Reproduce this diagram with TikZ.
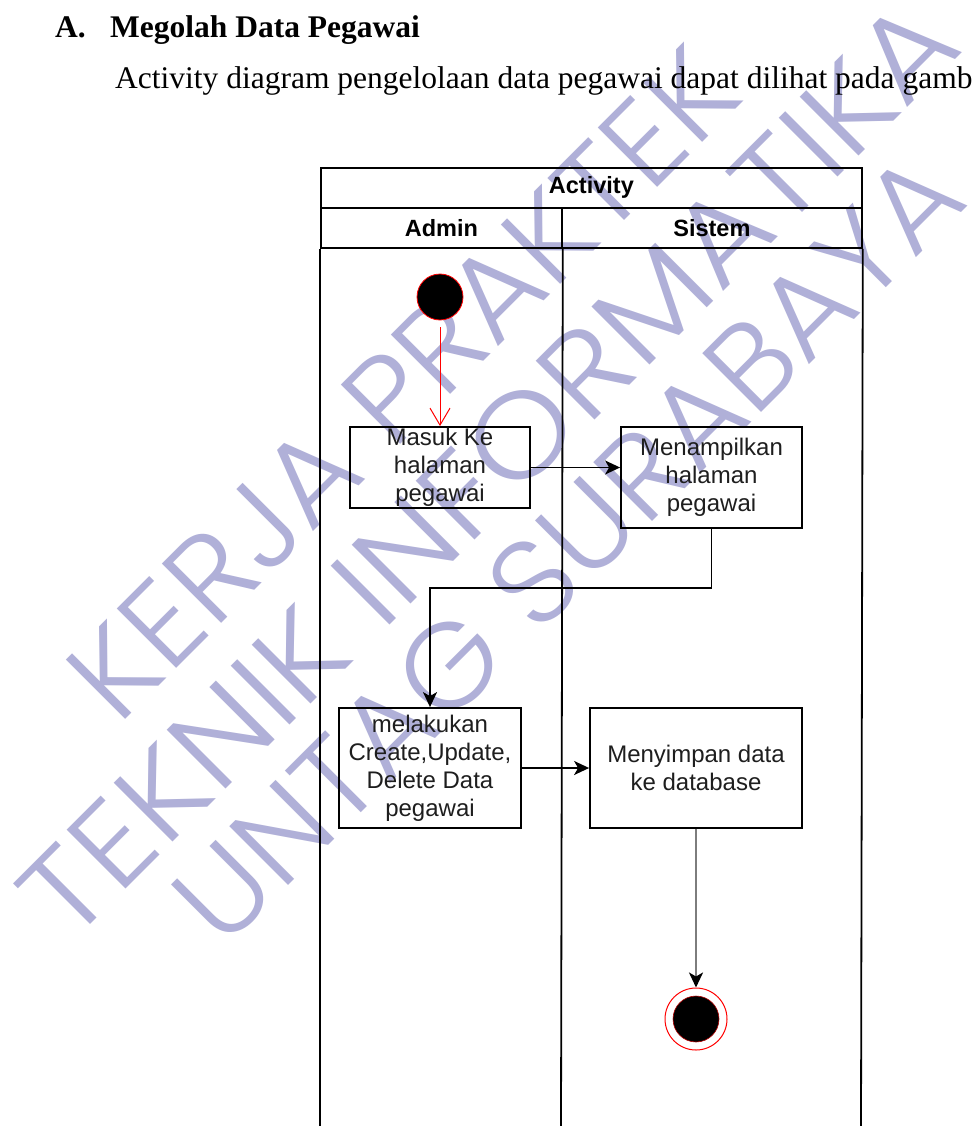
\documentclass[tikz,border=0pt]{standalone}
\usepackage{fontspec}
\usepackage{graphicx}
\setmainfont{Liberation Serif}
\newfontfamily\arialf{Liberation Sans}
\newfontfamily\wmfont{Poppins Light}
\usetikzlibrary{arrows.meta}
\definecolor{wmcol}{RGB}{176,176,216}
\definecolor{gline}{RGB}{125,125,125}
\definecolor{txt}{RGB}{30,30,30}
\tikzset{
  wm/.style={text=wmcol, inner sep=0pt, rotate=45, anchor=base, font=\wmfont},
  box/.style={draw=black, line width=1.8pt, align=center, inner sep=0pt, text=txt,
              font=\arialf\fontsize{24}{28}\selectfont},
  hdr/.style={draw=black, line width=1.8pt, inner sep=0pt, anchor=north west,
              minimum height=40pt, font=\arialf\bfseries\fontsize{23.5}{28}\selectfont},
  lane/.style={draw=black, line width=1.8pt},
  arr/.style={line width=1.8pt, -{Stealth[length=15pt,width=14pt,inset=4pt]}},
  doc/.style={anchor=base west, inner sep=0pt, font=\fontsize{31.5}{36}\selectfont}
}
\begin{document}
\begin{tikzpicture}[x=1pt,y=-1pt]
\useasboundingbox (0,0) rectangle (974,1126);
\fill[white] (0,0) rectangle (974,1126);
% watermark
\node[wm] (wm1) at (432.5,412.5) {\resizebox{887pt}{84pt}{KERJA PRAKTEK}};
\node[wm] (wm2) at (517.5,497.5) {\resizebox{1266pt}{84pt}{TEKNIK INFORMATIKA}};
\node[wm] (wm3) at (597,577) {\resizebox{1056pt}{84pt}{UNTAG SURABAYA}};
% document text
\node[doc, font=\bfseries\fontsize{31.5}{36}\selectfont] (secA) at (55,38) {A.};
\node[doc, font=\bfseries\fontsize{31.5}{36}\selectfont] (title) at (110,38) {Megolah Data Pegawai};
\node[doc] (para) at (115,89) {Activity diagram pengelolaan data pegawai dapat dilihat pada gamb};
% swimlane pool
\node[hdr, minimum width=541pt] (pooltitle) at (320,167) {Activity};
\node[hdr, minimum width=241pt] (lane1h) at (320,207) {Admin};
\node[hdr, minimum width=300pt] (lane2h) at (561,207) {Sistem};
\coordinate (b1) at (320,1126);
\coordinate (b2) at (561,1126);
\coordinate (b3) at (861,1126);
\draw[lane] (lane1h.south west) -- (b1);
\draw[lane] (lane1h.south east) -- (b2);
\draw[lane] (lane2h.south east) -- (b3);
% nodes
\node[circle, fill=black, draw=red, line width=0.8pt, minimum size=46pt, inner sep=0pt] (start) at (440,297) {};
\node[box, minimum width=180pt, minimum height=81pt] (box1) at (440,467.5) {Masuk Ke\\halaman\\pegawai};
\node[box, minimum width=181pt, minimum height=101pt] (box2) at (711.5,477.5) {Menampilkan\\halaman\\pegawai};
\node[box, minimum width=182pt, minimum height=120pt] (box3) at (430,768) {melakukan\\Create,Update,\\Delete Data\\pegawai};
\node[box, minimum width=212pt, minimum height=120pt] (box4) at (696,768) {Menyimpan data\\ke database};
\node[circle, draw=red, line width=1pt, minimum size=62pt, inner sep=0pt] (endo) at (696,1019) {};
\node[circle, fill=black, draw=red!70!black, line width=0.6pt, minimum size=46pt, inner sep=0pt] (endi) at (696,1019) {};
% connectors
\draw[red, line width=1pt, -{Straight Barb[length=17pt,width=20pt]}, shorten <=7pt] (start) -- (box1);
\draw[arr] (box1.east) -- (box1.east -| box2.west);
\coordinate (bend) at (430,588);
\draw[arr] (box2.south) |- (bend) -- (box3.north);
\draw[arr] (box3.east) -- (box4.west);
\draw[gline, line width=2.2pt, -{Stealth[length=15pt,width=14pt,inset=4pt,color=black]}] (box4.south) -- (endo.north);
\end{tikzpicture}
\end{document}
